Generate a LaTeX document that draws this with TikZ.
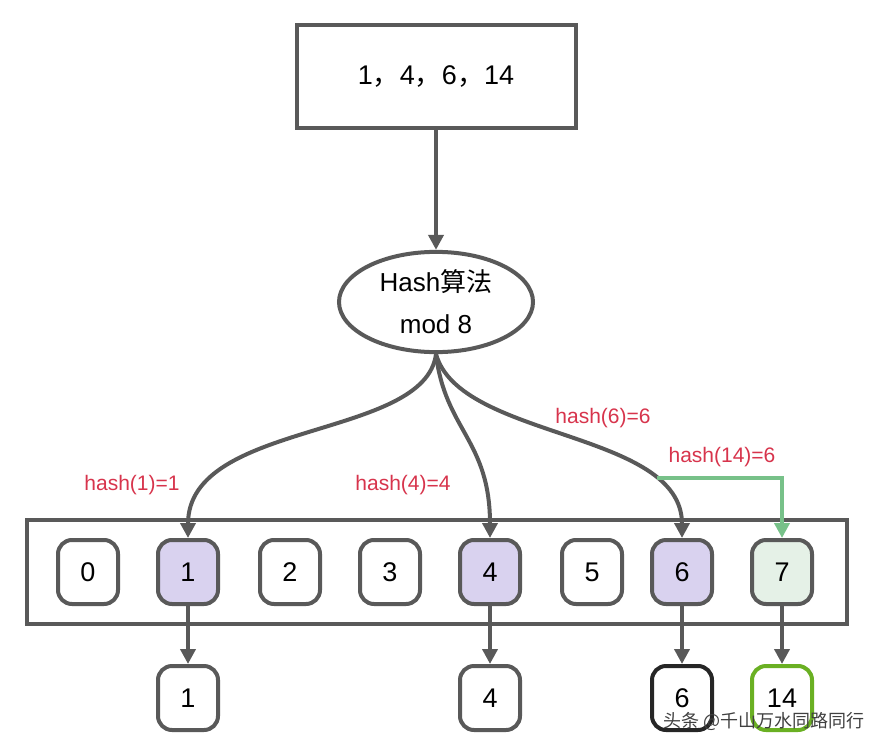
\documentclass[tikz,border=0pt]{standalone}
\usepackage{fontspec}
\setmainfont{Liberation Sans}
\newfontfamily\cjk{Noto Sans CJK SC}
\usetikzlibrary{shapes.geometric,arrows.meta}
\definecolor{linegray}{HTML}{595959}
\definecolor{hashred}{HTML}{D7344C}
\definecolor{lav}{HTML}{D9D2EF}
\definecolor{mint}{HTML}{E5F1E7}
\definecolor{leaf}{HTML}{6AB023}
\definecolor{arrgreen}{HTML}{77C189}
\tikzset{
  cell/.style={draw=linegray,line width=4pt,rounded corners=14pt,minimum width=60pt,minimum height=64pt,font=\fontsize{27}{30}\selectfont,inner sep=0pt},
  hl/.style={cell,fill=lav},
  lab/.style={text=hashred,font=\fontsize{21}{24}\selectfont},
  arr/.style={draw=linegray,line width=4pt,-{Triangle[length=15pt,width=15pt]}}
}
\begin{document}
\begin{tikzpicture}[x=1pt,y=-1pt]
\useasboundingbox (0,0) rectangle (882,754);
\node [draw=linegray,line width=4pt,minimum width=279pt,minimum height=103pt,font=\fontsize{27}{30}\selectfont] (in) at (436,77) {1{\cjk ，}4{\cjk ，}6{\cjk ，}14};
\node [draw=linegray,line width=4pt,ellipse,minimum width=194pt,minimum height=92pt,align=center,font=\fontsize{26}{30}\selectfont] (hash) at (436,302) {Hash{\cjk 算法}\\[12pt]mod 8};
\node [draw=linegray,line width=4pt,minimum width=820pt,minimum height=104pt] (table) at (436.5,571.5) {};

\node [cell] (b0) at (88,572) {0};
\node [hl] (b1) at (188,572) {1};
\node [cell] (b2) at (290,572) {2};
\node [cell] (b3) at (390,572) {3};
\node [hl] (b4) at (490,572) {4};
\node [cell] (b5) at (592,572) {5};
\node [hl] (b6) at (682,572) {6};
\node [cell,fill=mint] (b7) at (782,572) {7};

\node [cell] (v1) at (188,698) {1};
\node [cell] (v4) at (490,698) {4};
\node [cell,draw=black!85] (v6) at (682,698) {6};
\node [cell,draw=leaf] (v14) at (782,698) {14};

\draw [arr] (in) -- (hash);
\draw [arr] (hash.south) .. controls (425,440) and (188,420) .. (b1.north);
\draw [arr] (hash.south) .. controls (445,430) and (490,440) .. (b4.north);
\draw [arr] (hash.south) .. controls (460,440) and (682,430) .. (b6.north);
\coordinate (g0) at (657,478);
\draw [draw=arrgreen,line width=4pt,-{Triangle[length=15pt,width=15pt]}] (g0) -| (b7.north);

\draw [arr] (b1) -- (v1);
\draw [arr] (b4) -- (v4);
\draw [arr] (b6) -- (v6);
\draw [arr] (b7) -- (v14);

\node [lab] (l1) at (132,485) {hash(1)=1};
\node [lab] (l4) at (403,485) {hash(4)=4};
\node [lab] (l6) at (603,418) {hash(6)=6};
\node [lab] (l14) at (722,457) {hash(14)=6};
\node [text=black!75,font=\cjk\fontsize{18}{20}\selectfont] (wm) at (764,721) {头条 @千山万水同路同行};
\end{tikzpicture}
\end{document}
